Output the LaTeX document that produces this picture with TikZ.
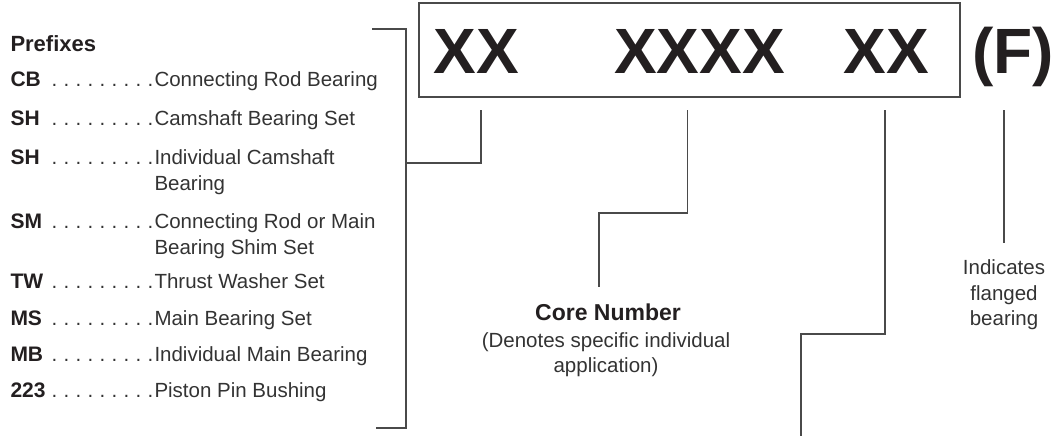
\documentclass[tikz,border=0pt]{standalone}
\usepackage{fontspec}
\setmainfont{Liberation Sans}
\definecolor{ink}{HTML}{231F20}
\definecolor{txt}{HTML}{333333}
\definecolor{ln}{HTML}{4A4A4A}
\newcommand\dotlead{\hbox to 108pt{\xleaders\hbox to 12pt{\hss.\hss}\hfill}}
\begin{document}
\begin{tikzpicture}[x=1pt,y=-1pt,
  every node/.style={inner sep=0pt, outer sep=0pt},
  code/.style={anchor=base west, font=\fontsize{21}{24}\selectfont\bfseries, text=ink},
  desc/.style={anchor=base west, font=\fontsize{20.5}{25}\selectfont, text=txt},
  lead/.style={anchor=base east, font=\fontsize{20.5}{25}\selectfont, text=txt},
  big/.style={anchor=base, font=\fontsize{64}{70}\selectfont\bfseries, text=ink},
  lbl/.style={anchor=base, font=\fontsize{20.5}{25}\selectfont, text=txt},
  conn/.style={draw=ln, line width=1.3pt},
]
\useasboundingbox (0,0) rectangle (1056,436);

% part-number box
\node (box) [draw=ln, line width=1.3pt, minimum width=541pt, minimum height=94pt, anchor=north west] at (419,3) {};
\node (pre)  [big] at (476.5,73) {XX};
\node (core) [big] at (699.5,73) {XXXX};
\node (suf)  [big] at (886,73) {XX};
\node (fl)   [big] at (1013,73) {(F)};

% prefix list
\node (hd) [code, font=\fontsize{22}{26}\selectfont\bfseries] at (10.5,52) {Prefixes};
\foreach \n/\c/\y in {cb/CB/86, sh/SH/125, shi/SH/164, sm/SM/228, tw/TW/288, ms/MS/325, mb/MB/361, pp/223/397}{
  \node (\n c) [code] at (10.5,\y) {\c};
  \node (\n l) [lead] at (156.5,\y) {\dotlead};
}
\node (cbd)  [desc] at (154.5,86)  {Connecting Rod Bearing};
\node (shd)  [desc] at (154.5,125) {Camshaft Bearing Set};
\node (shid) [desc] at (154.5,164) {Individual Camshaft};
\node (shie) [desc] at (154.5,190) {Bearing};
\node (smd)  [desc] at (154.5,228) {Connecting Rod or Main};
\node (sme)  [desc] at (154.5,254) {Bearing Shim Set};
\node (twd)  [desc] at (154.5,288) {Thrust Washer Set};
\node (msd)  [desc] at (154.5,325) {Main Bearing Set};
\node (mbd)  [desc] at (154.5,361) {Individual Main Bearing};
\node (ppd)  [desc] at (154.5,397) {Piston Pin Bushing};

% core number label
\node (cn)  [anchor=base, font=\fontsize{23}{27}\selectfont\bfseries, text=ink] at (608,320) {Core Number};
\node (cn1) [lbl] at (606,347) {(Denotes specific individual};
\node (cn2) [lbl] at (606,372) {application)};

% flanged label
\node (f1) [lbl] at (1004,274) {Indicates};
\node (f2) [lbl] at (1004,300) {flanged};
\node (f3) [lbl] at (1004,325) {bearing};

% connector points
\coordinate (s1) at (481,110);
\coordinate (j1) at (406,163);
\coordinate (bt) at (372,29);
\coordinate (bb) at (376,428);
\coordinate (s2) at (687.5,110);
\coordinate (c2) at (599,213);
\coordinate (e2) at (599,287);
\coordinate (s3) at (885,110);
\coordinate (c3) at (801,334);
\coordinate (e3) at (801,436);
\coordinate (s4) at (1004,110);
\coordinate (e4) at (1004,243);

\draw[conn] (bt) -| (j1) |- (bb);
\draw[conn] (s1) |- (j1);
\draw[conn] (s2) |- (c2) -- (e2);
\draw[conn] (s3) |- (c3) -- (e3);
\draw[conn] (s4) -- (e4);
\end{tikzpicture}
\end{document}
